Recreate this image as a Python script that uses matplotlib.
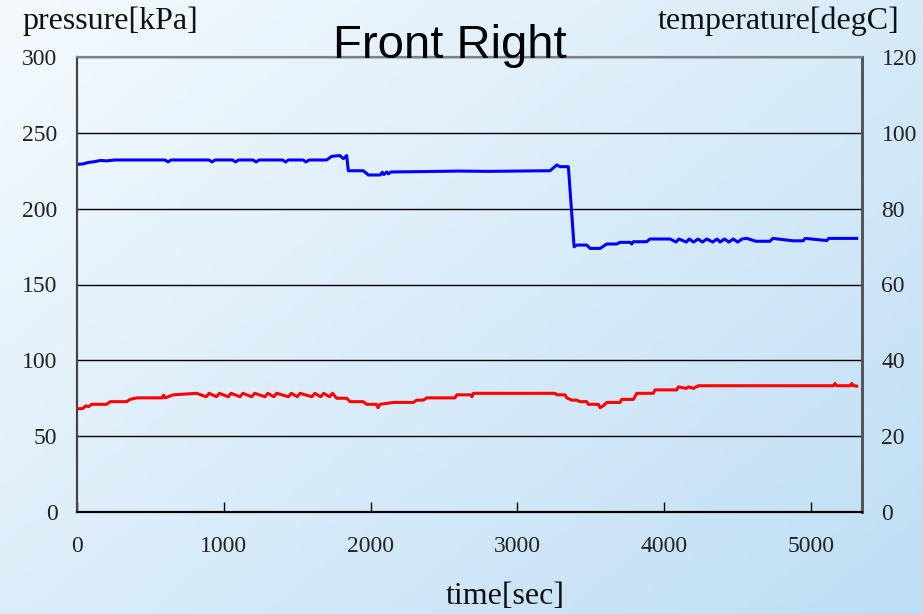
import numpy as np
import matplotlib
matplotlib.use('AGG')
import matplotlib.pyplot as plt

# pressure [kPa] (left axis)
p_time = [0, 40, 80, 120, 160, 200, 260, 600, 620, 640, 900, 920, 940, 1060, 1080, 1100,
          1200, 1220, 1240, 1400, 1420, 1440, 1540, 1560, 1580, 1700, 1735, 1790, 1815, 1837,
          1848, 1950, 1985, 2065, 2080, 2090, 2110, 2120, 2140, 2400, 2600, 2800, 3000, 3200,
          3222, 3268, 3290, 3347, 3386, 3404, 3472, 3495, 3563, 3608, 3676, 3699, 3767, 3778,
          3790, 3880, 3903, 4040, 4080, 4100, 4150, 4170, 4200, 4230, 4260, 4290, 4330, 4360,
          4380, 4410, 4440, 4470, 4500, 4530, 4562, 4625, 4720, 4740, 4877, 4946, 4960, 5107,
          5120, 5311]
pressure = [229.2, 229.5, 230.5, 231.0, 231.8, 231.5, 232.1, 232.1, 230.8, 232.1, 232.1, 230.8,
            232.1, 232.1, 230.8, 232.1, 232.1, 230.8, 232.1, 232.1, 230.8, 232.1, 232.1, 230.8,
            232.1, 232.1, 234.5, 235.0, 233.0, 235.0, 225.0, 225.0, 222.2, 222.2, 224.0, 222.5,
            224.2, 223.0, 224.2, 224.5, 224.8, 224.6, 224.8, 225.0, 225.0, 228.8, 227.7, 227.7,
            174.9, 176.0, 176.0, 173.8, 173.8, 176.7, 176.7, 177.8, 177.8, 176.7, 178.2, 178.2,
            180.0, 180.0, 178.0, 180.0, 178.0, 180.0, 178.0, 180.0, 178.0, 180.0, 178.0, 180.0,
            178.0, 180.0, 178.0, 180.0, 178.0, 180.0, 180.4, 178.5, 178.5, 180.4, 178.8, 178.8,
            180.4, 179.0, 180.4, 180.4]

# temperature [degC] (right axis)
t_time = [0, 40, 60, 80, 100, 202, 225, 338, 361, 407, 580, 590, 600, 656, 815, 880, 900, 950,
          970, 1030, 1050, 1110, 1130, 1190, 1210, 1280, 1300, 1340, 1360, 1440, 1460, 1500,
          1520, 1600, 1620, 1660, 1680, 1720, 1740, 1769, 1837, 1860, 1950, 1973, 2040, 2050,
          2064, 2155, 2291, 2314, 2359, 2382, 2575, 2587, 2680, 2690, 2700, 3256, 3268, 3324,
          3336, 3370, 3404, 3426, 3472, 3483, 3551, 3563, 3585, 3608, 3699, 3710, 3790, 3813,
          3926, 3937, 4085, 4096, 4150, 4165, 4200, 4215, 4221, 4232, 5152, 5163, 5175, 5270,
          5277, 5290, 5311]
temperature = [27.2, 27.3, 28.0, 27.8, 28.4, 28.4, 29.1, 29.1, 29.7, 30.1, 30.1, 30.8, 30.1,
               30.9, 31.3, 30.4, 31.3, 30.4, 31.3, 30.4, 31.3, 30.4, 31.3, 30.4, 31.3, 30.4,
               31.3, 30.4, 31.3, 30.4, 31.3, 30.4, 31.3, 30.4, 31.3, 30.4, 31.3, 30.4, 31.3,
               30.0, 30.0, 29.1, 29.1, 28.4, 28.4, 27.5, 28.4, 28.9, 28.9, 29.5, 29.5, 30.1,
               30.1, 30.9, 30.9, 30.4, 31.3, 31.3, 30.9, 30.9, 30.1, 29.5, 29.5, 29.1, 29.1,
               28.4, 28.4, 27.5, 28.0, 28.9, 28.9, 29.7, 29.7, 31.3, 31.3, 32.2, 32.2, 33.0,
               32.6, 33.0, 32.6, 33.0, 33.0, 33.3, 33.3, 33.9, 33.3, 33.3, 33.9, 33.3, 33.2]

x_ticks = [0, 1000, 2000, 3000, 4000, 5000]
p_ticks = [0, 50, 100, 150, 200, 250, 300]
t_ticks = [0, 20, 40, 60, 80, 100, 120]

serif = 'Liberation Serif'

fig = plt.figure(figsize=(9.23, 6.14), dpi=100)

# gradient background
bg = fig.add_axes([0, 0, 1, 1], zorder=-10)
gx, gy = np.meshgrid(np.linspace(0, 1, 200), np.linspace(0, 1, 200))
w = (0.55 * gx + 0.45 * gy)[..., None]
c0 = np.array([245, 250, 254]) / 255
c1 = np.array([190, 222, 244]) / 255
bg.imshow(c0 * (1 - w) + c1 * w, aspect='auto', extent=[0, 1, 0, 1], origin='upper')
bg.axis('off')

ax = fig.add_axes([77 / 923, 1 - 512 / 614, 785 / 923, 455 / 614])
ax.patch.set_alpha(0)
ax.plot(p_time, pressure, color='#0000ff', lw=2.2, zorder=3)
ax.set_xlim(0, 5347)
ax.set_ylim(0, 300)
ax.set_xticks(x_ticks)
ax.set_yticks(p_ticks)
ax.yaxis.grid(True, color='black', lw=1)
ax.tick_params(axis='x', direction='in', length=7, width=1, pad=17, labelsize=17)
ax.tick_params(axis='y', length=0, pad=14, labelsize=17)
for lab in ax.get_xticklabels() + ax.get_yticklabels():
    lab.set_fontfamily(serif)
    lab.set_color('#222222')

ax2 = ax.twinx()
ax2.plot(t_time, temperature, color='#ff0000', lw=2.2, zorder=3)
ax2.set_ylim(0, 120)
ax2.set_yticks(t_ticks)
ax2.tick_params(axis='y', length=0, pad=14, labelsize=17)
for lab in ax2.get_yticklabels():
    lab.set_fontfamily(serif)
    lab.set_color('#222222')

for a in (ax, ax2):
    a.spines['top'].set_color('#808080')
    a.spines['top'].set_linewidth(1.5)
    a.spines['left'].set_color('#444444')
    a.spines['left'].set_linewidth(1.5)
    a.spines['right'].set_color('#555555')
    a.spines['right'].set_linewidth(2)
    a.spines['bottom'].set_color('black')
    a.spines['bottom'].set_linewidth(1.5)

fig.text(22 / 923, 1 - 29 / 614, 'pressure[kPa]', family=serif, fontsize=23,
         ha='left', va='baseline', color='#111111')
fig.text(900 / 923, 1 - 29 / 614, 'temperature[degC]', family=serif, fontsize=23,
         ha='right', va='baseline', color='#111111')
fig.text(505 / 923, 1 - 604 / 614, 'time[sec]', family=serif, fontsize=23,
         ha='center', va='baseline', color='#111111')
fig.text(449.5 / 923, 1 - 58 / 614, 'Front Right', family='Liberation Sans', fontsize=34,
         ha='center', va='baseline', color='black', zorder=5)

fig.savefig('out.png', dpi=100)
